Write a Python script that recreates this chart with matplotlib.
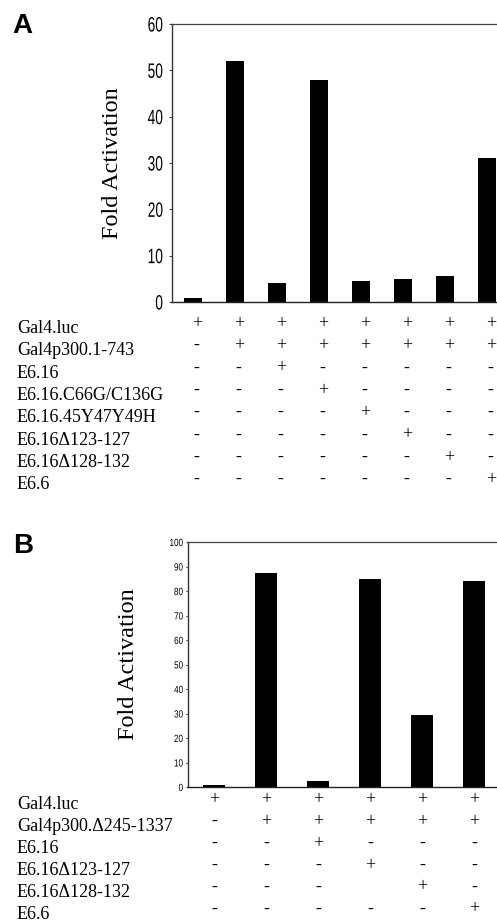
import matplotlib
matplotlib.use("Agg")
import matplotlib.pyplot as plt
from matplotlib.patheffects import AbstractPathEffect
from matplotlib.transforms import Affine2D

# ---------------- data ----------------
a_values = [0.8, 52, 4, 48, 4.5, 4.9, 5.7, 31]
a_rows = ["Gal4.luc", "Gal4p300.1-743", "E6.16", "E6.16.C66G/C136G",
          "E6.16.45Y47Y49H", "E6.16\u0394123-127", "E6.16\u0394128-132", "E6.6"]
a_signs = [
    ["+", "+", "+", "+", "+", "+", "+", "+"],
    ["-", "+", "+", "+", "+", "+", "+", "+"],
    ["-", "-", "+", "-", "-", "-", "-", "-"],
    ["-", "-", "-", "+", "-", "-", "-", "-"],
    ["-", "-", "-", "-", "+", "-", "-", "-"],
    ["-", "-", "-", "-", "-", "+", "-", "-"],
    ["-", "-", "-", "-", "-", "-", "+", "-"],
    ["-", "-", "-", "-", "-", "-", "-", "+"],
]
a_yticks = [0, 10, 20, 30, 40, 50, 60]

b_values = [1, 87.5, 2.3, 85, 29.3, 84]
b_rows = ["Gal4.luc", "Gal4p300.\u0394245-1337", "E6.16", "E6.16\u0394123-127",
          "E6.16\u0394128-132", "E6.6"]
b_signs = [
    ["+", "+", "+", "+", "+", "+"],
    ["-", "+", "+", "+", "+", "+"],
    ["-", "-", "+", "-", "-", "-"],
    ["-", "-", "-", "+", "-", "-"],
    ["-", "-", "-", "", "+", "-"],
    ["-", "-", "-", "-", "-", "+"],
]
b_yticks = [0, 10, 20, 30, 40, 50, 60, 70, 80, 90, 100]


class Narrow(AbstractPathEffect):
    """Horizontally condense text glyphs, keeping the right edge fixed."""

    def __init__(self, sx):
        super().__init__()
        self.sx = sx

    def draw_path(self, renderer, gc, tpath, affine, rgbFace=None):
        xmax = tpath.get_extents().x1
        t = Affine2D().translate(-xmax, 0).scale(self.sx, 1).translate(xmax, 0) + affine
        renderer.draw_path(gc, tpath, t, rgbFace)


# ---------------- layout ----------------
W, H = 497, 922
fig = plt.figure(figsize=(W / 100, H / 100), dpi=100)
serif = "Liberation Serif"


def make_panel(letter, letter_xy, left, right, top, bottom, values, xlim, width,
               yticks, tick_fs, tick_sx, tick_len, tick_pad, ylab_x, rows, signs,
               row_y0, row_dy, sign_dx):
    ax = fig.add_axes([left / W, 1 - bottom / H, (right - left) / W, (bottom - top) / H])
    x = list(range(len(values)))
    ax.bar(x, values, width=width, color="black")
    ax.set_xlim(*xlim)
    ax.set_ylim(yticks[0], yticks[-1])
    ax.set_yticks(yticks)
    ax.set_yticklabels([str(t) for t in yticks], family="Liberation Sans", fontsize=tick_fs)
    for lab in ax.get_yticklabels():
        lab.set_path_effects([Narrow(tick_sx)])
    ax.set_xticks([])
    ax.tick_params(axis="y", length=tick_len, width=0.8, pad=tick_pad, color="#444444")
    ax.spines["left"].set_linewidth(1.0)
    ax.spines["left"].set_color("#333333")
    ax.spines["bottom"].set_linewidth(1.0)
    ax.spines["bottom"].set_color("#222222")
    ax.spines["top"].set_linewidth(0.9)
    ax.spines["top"].set_color("#444444")
    ax.spines["right"].set_visible(False)

    fig.text(ylab_x / W, 1 - (top + bottom) / 2 / H, "Fold Activation",
             rotation=90, ha="center", va="center", family=serif, fontsize=17.5)
    fig.text(letter_xy[0] / W, 1 - letter_xy[1] / H, letter, ha="left", va="center",
             family="Liberation Sans", fontweight="bold", fontsize=20)

    trans = ax.get_xaxis_transform()
    ph = bottom - top
    for i, (lab, row) in enumerate(zip(rows, signs)):
        yc = row_y0 + i * row_dy
        fig.text(17 / W, 1 - (yc + 5) / H, lab, ha="left", va="baseline",
                 family=serif, fontsize=13)
        for j, s in enumerate(row):
            if s:
                ax.text(x[j] + sign_dx, (bottom - yc) / ph, s, transform=trans,
                        ha="center", va="baseline", family=serif, fontsize=13,
                        clip_on=False)
    return ax


make_panel("A", (12, 26), 172, 497, 24, 302, a_values, (-0.5, 7.24), 0.43,
           a_yticks, 15, 0.66, 2.2, 4.0, 112, a_rows, a_signs, 328, 22.3, 0.09)
make_panel("B", (13, 546), 188, 497, 542, 787, b_values, (-0.5, 5.44), 0.41,
           b_yticks, 7.5, 0.78, 1.5, 2.0, 128, b_rows, b_signs, 804, 21.9, 0.0)

fig.savefig("out.png", dpi=100, facecolor="white")
